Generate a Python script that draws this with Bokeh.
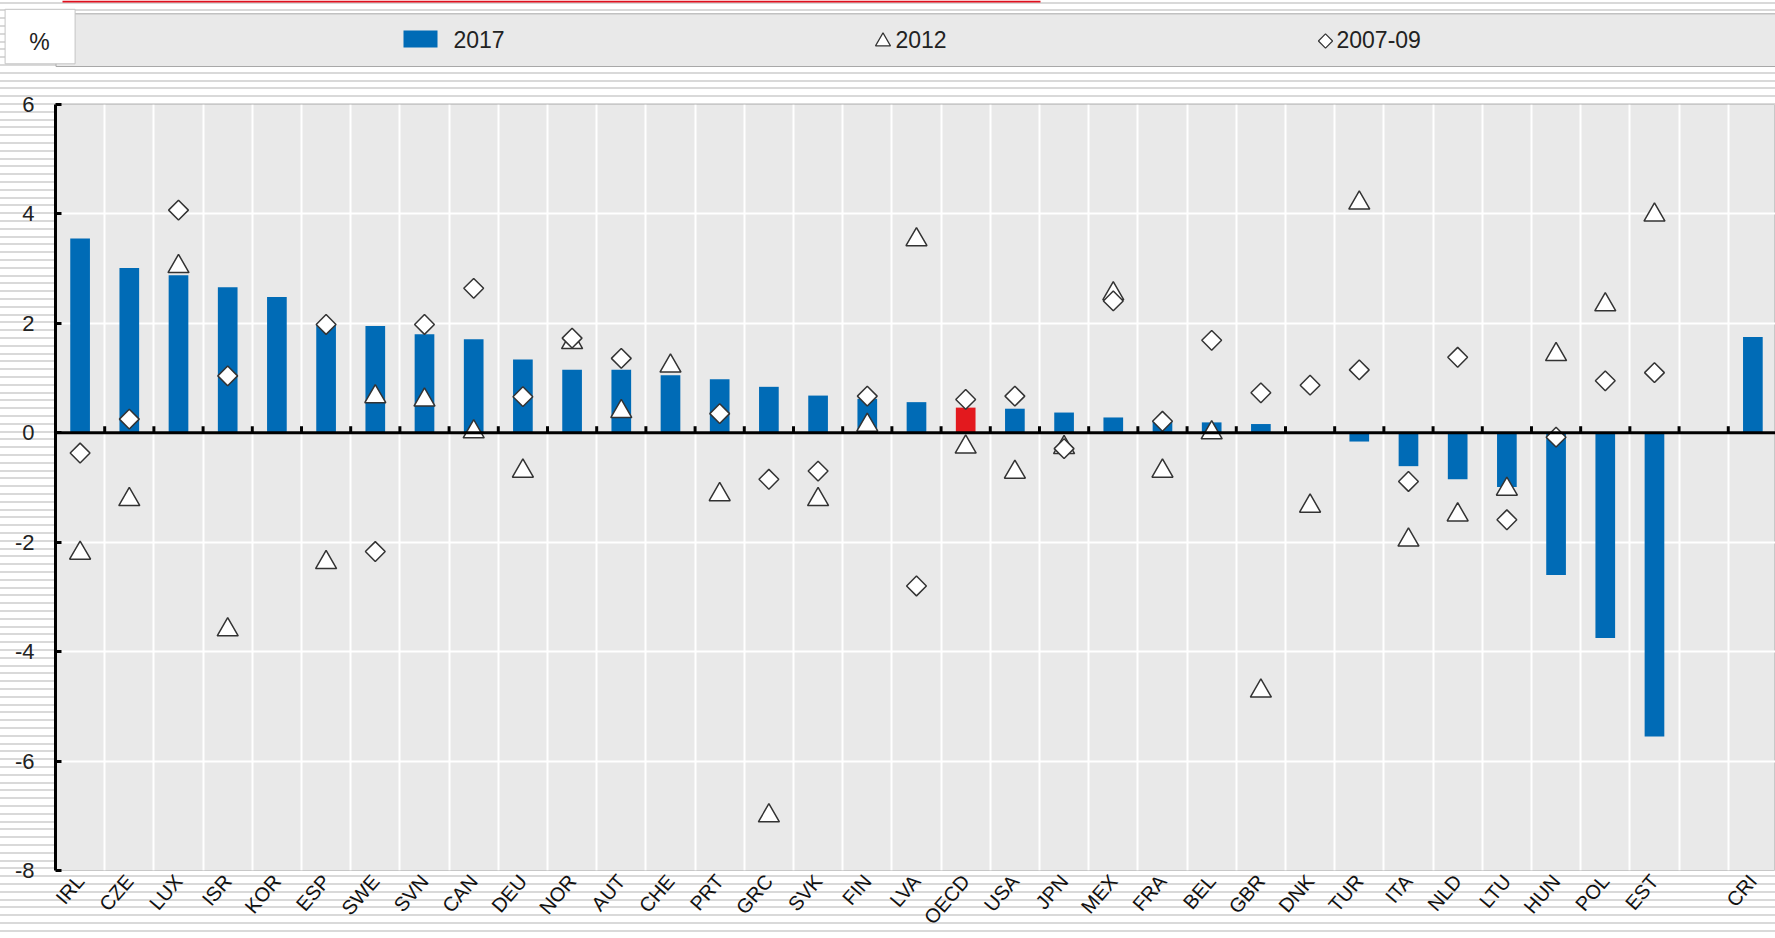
import math
from bokeh.plotting import figure
from bokeh.models import Range1d, FixedTicker, Span, ColumnDataSource
from bokeh.layouts import column
from bokeh.embed import file_html
from bokeh.resources import INLINE
from bokeh.core.properties import value

NAN = float("nan")

# ---------------- data ----------------
countries = ["IRL", "CZE", "LUX", "ISR", "KOR", "ESP", "SWE", "SVN", "CAN", "DEU",
             "NOR", "AUT", "CHE", "PRT", "GRC", "SVK", "FIN", "LVA", "OECD", "USA",
             "JPN", "MEX", "FRA", "BEL", "GBR", "DNK", "TUR", "ITA", "NLD", "LTU",
             "HUN", "POL", "EST", "", "CRI"]

values_2017 = [3.55, 3.01, 2.88, 2.66, 2.48, 1.98, 1.95, 1.80, 1.71, 1.34,
               1.15, 1.15, 1.05, 0.98, 0.84, 0.68, 0.62, 0.56, 0.46, 0.44,
               0.37, 0.28, 0.21, 0.19, 0.16, NAN, -0.16, -0.61, -0.85, -0.99,
               -2.60, -3.75, -5.55, NAN, 1.75]

values_2012 = [-2.20, -1.22, 3.04, -3.60, NAN, -2.37, 0.66, 0.60, 0.02, -0.70,
               1.65, 0.39, 1.22, -1.13, -7.00, -1.22, 0.14, 3.53, -0.26, -0.72,
               -0.27, 2.54, -0.70, 0.00, -4.72, -1.34, 4.20, -1.96, -1.50, -1.03,
               1.43, 2.34, 3.98, NAN, NAN]

values_2007_09 = [-0.37, 0.25, 4.07, 1.04, NAN, 1.98, -2.17, 1.98, 2.64, 0.66,
                  1.73, 1.36, NAN, 0.35, -0.85, -0.70, 0.67, -2.80, 0.61, 0.67,
                  -0.29, 2.41, 0.21, 1.69, 0.73, 0.87, 1.15, -0.89, 1.38, -1.59,
                  -0.08, 0.95, 1.10, NAN, NAN]

y_ticks = [-8, -6, -4, -2, 0, 2, 4, 6]
legend_labels = ["2017", "2012", "2007-09"]
unit_label = "%"
highlight = "OECD"

# ---------------- style ----------------
FONT = "Liberation Sans"
BLUE = "#006bb6"
RED = "#e3191e"
PANEL = "#e9e9e9"
W = 1775
TOP_H = 88
BOT_H = 850

positions = list(range(len(countries)))
label_pos = [i for i, c in zip(positions, countries) if c]
boundaries = [i + 0.5 for i in positions[:-1]]
colors = [RED if c == highlight else BLUE for c in countries]

src = ColumnDataSource(dict(x=positions, v17=values_2017, v12=values_2012,
                            v07=values_2007_09, color=colors))

# ---------------- legend strip (pixel-like coordinates) ----------------
lg = figure(width=W, height=TOP_H, x_range=Range1d(0, W), y_range=Range1d(TOP_H, 0),
            output_backend="svg", toolbar_location=None, min_border=0,
            x_axis_location=None, y_axis_location=None)
lg.frame_align = False
lg.grid.visible = False
lg.outline_line_color = None
lg.background_fill_color = None
lg.border_fill_color = None

lg.quad(left=[62], right=[1040], top=[0], bottom=[2], fill_color="#e0101e", line_color=None)
lg.quad(left=[55.5], right=[W + 10], top=[13.3], bottom=[66], fill_color=PANEL,
        line_color="#a8a8a8", line_width=1)
lg.quad(left=[4.6], right=[74.6], top=[8.8], bottom=[63.3], fill_color="white",
        line_color="#c4c4c4", line_width=1)
lg.text(x=[39], y=[41], text=[unit_label], text_align="center", text_baseline="middle",
        text_font=value(FONT), text_font_size="23px", text_color="#222222")

lg.quad(left=[403], right=[437], top=[30], bottom=[47], fill_color=BLUE, line_color=None)
lg.scatter(x=[882.5], y=[41], marker="triangle", size=15, fill_color="white",
           line_color="#333333", line_width=1.2)
lg.scatter(x=[1325], y=[40.5], marker="square", angle=math.pi / 4, size=10,
           fill_color="white", line_color="#333333", line_width=1.2)
lg.text(x=[453, 895, 1336], y=[39, 39, 39], text=legend_labels, text_align="left",
        text_baseline="middle", text_font=value(FONT), text_font_size="23px",
        text_color="#222222")

# ---------------- main chart ----------------
p = figure(width=W, height=BOT_H, x_range=Range1d(-0.5, 34.46), y_range=Range1d(-8, 6),
           output_backend="svg", toolbar_location=None,
           min_border_left=55, min_border_right=0, min_border_top=16, min_border_bottom=64)
p.frame_align = False
p.background_fill_color = PANEL
p.border_fill_color = None
p.outline_line_color = "#c8c8c8"

p.xgrid.ticker = FixedTicker(ticks=boundaries)
p.xgrid.grid_line_color = "white"
p.xgrid.grid_line_width = 2
p.ygrid.ticker = FixedTicker(ticks=y_ticks)
p.ygrid.grid_line_color = "white"
p.ygrid.grid_line_width = 2

xa = p.xaxis[0]
xa.ticker = FixedTicker(ticks=label_pos)
xa.major_label_overrides = {i: countries[i] for i in label_pos}
xa.major_label_orientation = 0.86
xa.axis_line_color = None
xa.major_tick_line_color = None
xa.minor_tick_line_color = None
xa.major_label_standoff = 1
xa.major_label_text_font = FONT
xa.major_label_text_font_size = "20px"
xa.major_label_text_color = "#111111"

ya = p.yaxis[0]
ya.ticker = FixedTicker(ticks=y_ticks)
ya.major_label_overrides = {t: str(t) for t in y_ticks}
ya.axis_line_color = "black"
ya.axis_line_width = 3
ya.major_tick_in = 6
ya.major_tick_out = 0
ya.major_tick_line_width = 3
ya.major_tick_line_color = "black"
ya.minor_tick_line_color = None
ya.major_label_standoff = 21
ya.major_label_text_font = FONT
ya.major_label_text_font_size = "22px"
ya.major_label_text_color = "#222222"

p.vbar(x="x", top="v17", bottom=0, width=0.4, fill_color="color", line_color=None, source=src)
p.add_layout(Span(location=0, dimension="width", line_color="black", line_width=3))
p.segment(x0=boundaries, y0=0, x1=boundaries, y1=0.12, line_color="black", line_width=3)
p.scatter(x="x", y="v12", marker="triangle", size=21, fill_color="white",
          line_color="#333333", line_width=1.5, source=src)
p.scatter(x="x", y="v07", marker="square", angle=math.pi / 4, size=14, fill_color="white",
          line_color="#333333", line_width=1.5, source=src)

stripes = ("repeating-linear-gradient(180deg, #ffffff 0px, #ffffff 1.5px, #d9d9d9 1.5px, "
           "#d9d9d9 3.5px, #ffffff 3.5px, #ffffff 7.8px)")
layout = column(lg, p, styles={"background-image": stripes})

open("out.html", "w").write(file_html(layout, INLINE))
